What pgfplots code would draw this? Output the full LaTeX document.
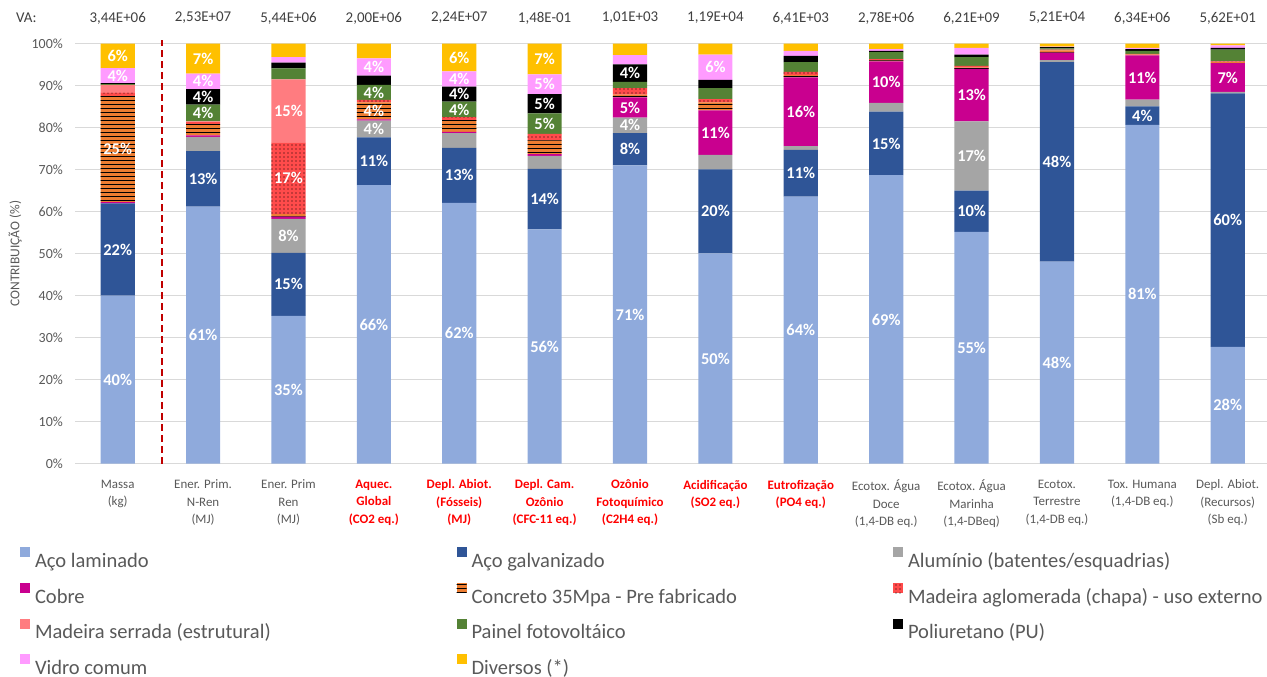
\documentclass[border=0pt]{standalone}
\usepackage{pgfplots}
\pgfplotsset{compat=1.18}
\usetikzlibrary{patterns,patterns.meta}
\usepackage{fontspec}
\setmainfont{Carlito}
\definecolor{clam}{HTML}{8FAADC}
\definecolor{cgalv}{HTML}{2F5597}
\definecolor{calum}{HTML}{A5A5A5}
\definecolor{ccobre}{HTML}{C9008F}
\definecolor{cconc}{HTML}{ED7D31}
\definecolor{cagl}{HTML}{FF4B4B}
\definecolor{cserr}{HTML}{FF7C80}
\definecolor{cpainel}{HTML}{548235}
\definecolor{cpu}{HTML}{000000}
\definecolor{cvidro}{HTML}{FF9BFF}
\definecolor{cdiv}{HTML}{FFC000}
\definecolor{tgray}{HTML}{595959}
\definecolor{tdark}{HTML}{404040}
\definecolor{tred}{HTML}{FF0000}
\definecolor{gridc}{HTML}{D9D9D9}
\definecolor{dred}{HTML}{C00000}
\newcommand\rl[1]{\textcolor{tred}{\bfseries #1}}
\newcommand\lgx[1]{\makebox[419.5bp][l]{\rule[-6.5bp]{0pt}{23.5bp}\textcolor{tgray}{#1}}}
\begin{document}
\begin{tikzpicture}
\useasboundingbox (0,0) rectangle (1267bp,677bp);
\begin{axis}[
  at={(75bp,213.3bp)}, anchor=south west,
  width=1192bp, height=420bp, scale only axis,
  xmin=-0.5, xmax=13.46, ymin=0, ymax=100,
  enlargelimits=false,
  clip=false,
  ybar stacked, bar width=0.4,
  axis line style={draw=none},
  major tick length=0pt,
  ymajorgrids, grid style={color=gridc, line width=1bp},
  ytick={0,10,...,100},
  yticklabel={\pgfmathprintnumber{\tick}\%},
  /pgf/number format/assume math mode=true,
  yticklabel style={font=\fontsize{14}{16}\selectfont, text=tgray, inner sep=0pt, anchor=east, xshift=-12bp},
  xtick={0,...,13},
  xticklabels={
    {Massa\\(kg)},
    {Ener. Prim.\\N-Ren\\(MJ)},
    {Ener. Prim\\Ren\\(MJ)},
    {\rl{Aquec.}\\\rl{Global}\\\rl{(CO2 eq.)}},
    {\rl{Depl. Abiot.}\\\rl{(Fósseis)}\\\rl{(MJ)}},
    {\rl{Depl. Cam.}\\\rl{Ozônio}\\\rl{(CFC-11 eq.)}},
    {\rl{Ozônio}\\\rl{Fotoquímico}\\\rl{(C2H4 eq.)}},
    {\rl{Acidificação}\\\rl{(SO2 eq.)}},
    {\rl{Eutrofização}\\\rl{(PO4 eq.)}},
    {Ecotox. Água\\Doce\\(1,4-DB eq.)},
    {Ecotox. Água\\Marinha\\(1,4-DBeq)},
    {Ecotox.\\Terrestre\\(1,4-DB eq.)},
    {Tox. Humana\\(1,4-DB eq.)},
    {Depl. Abiot.\\(Recursos)\\(Sb eq.)}},
  xticklabel style={font=\fontsize{13}{17.5}\selectfont, text=tgray, align=center, anchor=north, inner sep=0pt, yshift=-16bp},
  ylabel={CONTRIBUIÇÃO (\%)},
  every axis y label/.style={at={(axis description cs:-0.0503,0.5)}, rotate=90, anchor=center, font=\fontsize{13.5}{15}\selectfont, text=tgray},
  legend columns=3,
  legend image code/.code={\fill[#1] (0bp,2.5bp) rectangle (10bp,12.5bp);},
  legend style={at={(-0.0461,-0.1995)}, anchor=north west, draw=none, fill=none, inner sep=0pt, outer sep=0pt, font=\fontsize{20.6}{22.4}\selectfont, row sep=11.8bp, /tikz/every odd column/.append style={column sep=3bp}, /tikz/every even column/.append style={column sep=0pt}},
]
\addplot[fill=clam, draw=none] coordinates {(0,40.0) (1,61.2) (2,35.2) (3,66.3) (4,62.1) (5,55.8) (6,71.0) (7,50.1) (8,63.6) (9,68.7) (10,55.2) (11,48.1) (12,80.7) (13,27.8)};
\addlegendentry{\lgx{Aço laminado}}
\addplot[fill=cgalv, draw=none] coordinates {(0,22.0) (1,13.2) (2,15.0) (3,11.4) (4,13.1) (5,14.4) (6,7.7) (7,20.0) (8,11.1) (9,15.1) (10,9.8) (11,47.5) (12,4.4) (13,60.4)};
\addlegendentry{\lgx{Aço galvanizado}}
\addplot[fill=calum, draw=none] coordinates {(0,0.0) (1,3.4) (2,8.1) (3,4.0) (4,3.5) (5,3.1) (6,3.7) (7,3.4) (8,0.9) (9,2.1) (10,16.5) (11,0.5) (12,1.6) (13,0.3)};
\addlegendentry{\lgx{Alumínio (batentes/esquadrias)}}
\addplot[fill=ccobre, draw=none] coordinates {(0,0.3) (1,0.4) (2,0.5) (3,0.3) (4,0.3) (5,0.4) (6,4.8) (7,10.6) (8,16.4) (9,9.9) (10,12.5) (11,1.8) (12,10.5) (13,6.9)};
\addlegendentry{\lgx{Cobre}}
\addplot[fill=cconc, draw=none, postaction={pattern={Lines[angle=0,distance=4bp,line width=1bp]}, pattern color=black}] coordinates {(0,25.3) (1,2.7) (2,0.6) (3,4.0) (4,2.8) (5,3.3) (6,0.7) (7,1.9) (8,0.5) (9,0.2) (10,0.3) (11,0.5) (12,0.2) (13,0.2)};
\addlegendentry{\lgx{Concreto 35Mpa - Pre fabricado}}
\addplot[fill=cagl, draw=none, postaction={pattern={Dots[radius=0.7bp,distance=4bp]}, pattern color=black}] coordinates {(0,0.7) (1,0.4) (2,17.1) (3,0.6) (4,0.7) (5,1.5) (6,1.5) (7,0.8) (8,0.8) (9,0.3) (10,0.4) (11,0.2) (12,0.2) (13,0.2)};
\addlegendentry{\lgx{Madeira aglomerada (chapa) - uso externo}}
\addplot[fill=cserr, draw=none] coordinates {(0,1.9) (1,0.2) (2,15.0) (3,0) (4,0) (5,0) (6,0) (7,0) (8,0) (9,0) (10,0) (11,0) (12,0) (13,0)};
\addlegendentry{\lgx{Madeira serrada (estrutural)}}
\addplot[fill=cpainel, draw=none] coordinates {(0,0.2) (1,4.0) (2,2.6) (3,3.6) (4,3.7) (5,4.9) (6,1.5) (7,2.6) (8,2.3) (9,1.7) (10,2.1) (11,0.3) (12,0.7) (13,2.8)};
\addlegendentry{\lgx{Painel fotovoltáico}}
\addplot[fill=cpu, draw=none] coordinates {(0,0.2) (1,3.7) (2,1.4) (3,2.2) (4,3.6) (5,4.6) (6,4.2) (7,2.0) (8,1.5) (9,0.3) (10,0.6) (11,0.3) (12,0.4) (13,0.4)};
\addlegendentry{\lgx{Poliuretano (PU)}}
\addplot[fill=cvidro, draw=none] coordinates {(0,3.6) (1,3.7) (2,1.3) (3,4.1) (4,3.6) (5,4.7) (6,2.2) (7,6.0) (8,1.2) (9,0.4) (10,1.6) (11,0.1) (12,0.3) (13,0.6)};
\addlegendentry{\lgx{Vidro comum}}
\addplot[fill=cdiv, draw=none] coordinates {(0,5.8) (1,7.1) (2,3.2) (3,3.5) (4,6.6) (5,7.3) (6,2.7) (7,2.6) (8,1.7) (9,1.3) (10,1.0) (11,0.7) (12,1.0) (13,0.4)};
\addlegendentry{\lgx{Diversos (*)}}
\end{axis}
\begin{axis}[
  at={(75bp,213.3bp)}, anchor=south west,
  width=1192bp, height=420bp, scale only axis,
  xmin=-0.5, xmax=13.46, ymin=0, ymax=100,
  enlargelimits=false, hide axis, clip=false,
]
\addplot[dred, line width=2bp, dash pattern=on 7bp off 4bp] coordinates {(0.52,0) (0.52,100.9)};
% segment labels (centre of each labelled segment)
\addplot[draw=none, mark=none, point meta=explicit symbolic, nodes near coords,
  nodes near coords style={anchor=center, font=\fontsize{16.5}{18}\selectfont\bfseries, text=white, inner sep=0pt}]
  coordinates {
  (0,20)[40\%] (0,51)[22\%] (0,74.95)[25\%] (0,92.4)[4\%] (0,97.1)[6\%]
  (1,30.6)[61\%] (1,67.8)[13\%] (1,83.5)[4\%] (1,87.35)[4\%] (1,91.05)[4\%] (1,96.45)[7\%]
  (2,17.6)[35\%] (2,42.7)[15\%] (2,54.25)[8\%] (2,67.95)[17\%] (2,84)[15\%]
  (3,33.15)[66\%] (3,72)[11\%] (3,79.7)[4\%] (3,84)[4\%] (3,88.4)[4\%] (3,94.45)[4\%]
  (4,31.05)[62\%] (4,68.65)[13\%] (4,84.35)[4\%] (4,88)[4\%] (4,91.6)[4\%] (4,96.7)[6\%]
  (5,27.9)[56\%] (5,63)[14\%] (5,80.95)[5\%] (5,85.7)[5\%] (5,90.35)[5\%] (5,96.35)[7\%]
  (6,35.5)[71\%] (6,74.85)[8\%] (6,80.55)[4\%] (6,84.8)[5\%] (6,93)[4\%]
  (7,25.05)[50\%] (7,60.1)[20\%] (7,78.8)[11\%] (7,94.4)[6\%]
  (8,31.8)[64\%] (8,69.15)[11\%] (8,83.8)[16\%]
  (9,34.35)[69\%] (9,76.25)[15\%] (9,90.85)[10\%]
  (10,27.6)[55\%] (10,60.1)[10\%] (10,73.25)[17\%] (10,87.75)[13\%]
  (11,24.05)[48\%] (11,71.85)[48\%]
  (12,40.35)[81\%] (12,82.9)[4\%] (12,91.95)[11\%]
  (13,13.9)[28\%] (13,58)[60\%] (13,91.95)[7\%]};
% VA row
\addplot[draw=none, mark=none, point meta=explicit symbolic, nodes near coords,
  nodes near coords style={anchor=center, font=\fontsize{15}{17}\selectfont, text=tdark, inner sep=0pt}]
  coordinates {(-1.07,106.1)[VA:] (0,106.1)[3,44E+06] (1,106.1)[2,53E+07] (2,106.1)[5,44E+06] (3,106.1)[2,00E+06] (4,106.1)[2,24E+07] (5,106.1)[1,48E-01] (6,106.1)[1,01E+03] (7,106.1)[1,19E+04] (8,106.1)[6,41E+03] (9,106.1)[2,78E+06] (10,106.1)[6,21E+09] (11,106.1)[5,21E+04] (12,106.1)[6,34E+06] (13,106.1)[5,62E+01]};
\end{axis}
\end{tikzpicture}
\end{document}
